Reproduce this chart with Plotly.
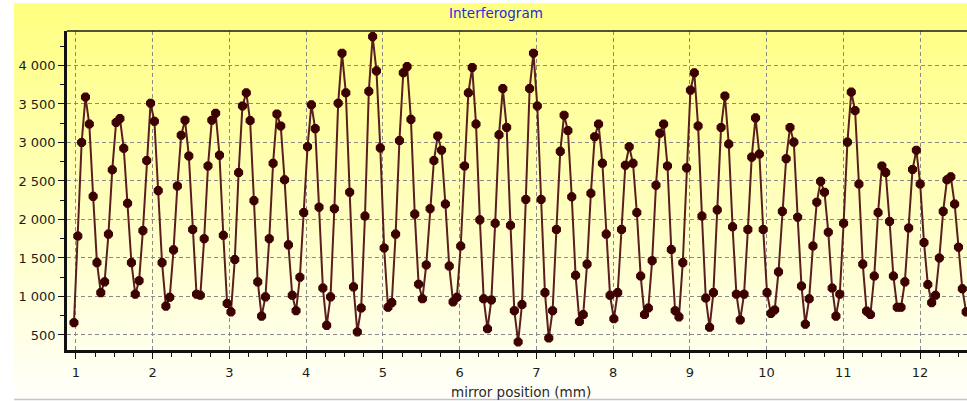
import base64
import struct
import zlib

import numpy as np
import plotly.graph_objects as go

# ---------------- data ----------------
X_START = 0.974          # first mirror position (mm)
X_STEP = 0.0499          # sampling step (mm)

intensity = [
    660, 1785, 3000, 3590, 3240, 2300, 1440, 1050, 1190, 1810,
    2645, 3260, 3310, 2925, 2210, 1440, 1030, 1205, 1855, 2765,
    3510, 3275, 2375, 1440, 875, 990, 1605, 2435, 3095, 3290,
    2825, 1870, 1030, 1015, 1750, 2695, 3290, 3380, 2835, 1795,
    910, 800, 1480, 2610, 3475, 3645, 3285, 2245, 1190, 745,
    995, 1750, 2730, 3370, 3215, 2515, 1670, 1015, 815, 1250,
    2090, 2945, 3490, 3180, 2160, 1110, 625, 995, 2140, 3510,
    4160, 3645, 2355, 1125, 540, 850, 2045, 3665, 4375, 3930,
    2930, 1630, 860, 920, 1810, 3025, 3905, 3985, 3300, 2070,
    1160, 970, 1410, 2140, 2765, 3085, 2900, 2200, 1395, 930,
    990, 1655, 2695, 3645, 3975, 3240, 1995, 970, 580, 955,
    1950, 3100, 3700, 3195, 1925, 815, 410, 895, 2260, 3700,
    4160, 3475, 2260, 1050, 460, 815, 1870, 2885, 3355, 3155,
    2295, 1275, 675, 765, 1420, 2340, 3075, 3240, 2730, 1810,
    1015, 710, 1050, 1870, 2705, 2945, 2730, 2090, 1265, 765,
    850, 1465, 2445, 3120, 3240, 2695, 1610, 815, 735, 1440,
    2670, 3680, 3905, 3215, 2045, 980, 600, 1050, 2125, 3195,
    3605, 2980, 1905, 1030, 695, 1030, 1870, 2810, 3320, 2850,
    1870, 1050, 780, 825, 1320, 2105, 2790, 3195, 3005, 2030,
    1135, 640, 970, 1655, 2225, 2495, 2355, 1835, 1110, 745,
    1030, 1950, 3005, 3655, 3415, 2460, 1420, 810, 765, 1265,
    2090, 2695, 2610, 1975, 1265, 860, 860, 1190, 1890, 2650,
    2900, 2460, 1700, 1155, 920, 1015, 1500, 2105, 2515, 2555,
    2200, 1640, 1100, 800,
]
mirror_position = np.round(X_START + X_STEP * np.arange(len(intensity)), 4)

x_tick_vals = list(range(1, 13))
x_tick_text = [str(v) for v in x_tick_vals]
y_tick_vals = [500, 1000, 1500, 2000, 2500, 3000, 3500, 4000]
y_tick_text = ["500", "1 000", "1 500", "2 000", "2 500", "3 000", "3 500", "4 000"]

title_text = "Interferogram"
x_title_text = "mirror position (mm)"

# ---------------- gradient background (PNG data URI) ----------------
def gradient_png(top, bottom, h=256):
    rows = b""
    for i in range(h):
        t = i / (h - 1)
        c = [int(round(top[k] + (bottom[k] - top[k]) * t)) for k in range(3)]
        rows += b"\x00" + bytes(c)
    def chunk(tag, data):
        return (struct.pack(">I", len(data)) + tag + data +
                struct.pack(">I", zlib.crc32(tag + data) & 0xFFFFFFFF))
    png = b"\x89PNG\r\n\x1a\n"
    png += chunk(b"IHDR", struct.pack(">IIBBBBB", 1, h, 8, 2, 0, 0, 0))
    png += chunk(b"IDAT", zlib.compress(rows, 9))
    png += chunk(b"IEND", b"")
    return "data:image/png;base64," + base64.b64encode(png).decode()

W, H = 967, 401
L, T, B = 67, 31, 350
PW, PH = W - L, B - T


def px_x(px):
    return (px - L) / PW


def px_y(py):
    return (B - py) / PH


bg = gradient_png((255, 255, 128), (255, 255, 250))

fig = go.Figure()
fig.add_trace(go.Scatter(
    x=mirror_position, y=intensity, mode="lines+markers",
    line=dict(color="#5a1e1e", width=2),
    marker=dict(symbol="octagon", size=8.5, color="#3c0000",
                line=dict(color="#3c0000", width=1.2)),
    cliponaxis=True, showlegend=False, hoverinfo="x+y",
))

axis_font = dict(family="DejaVu Sans", size=13, color="#1c1c1c")

fig.update_layout(
    width=W, height=H,
    margin=dict(l=L, r=0, t=T, b=H - B, pad=0),
    paper_bgcolor="white",
    plot_bgcolor="rgba(0,0,0,0)",
    showlegend=False,
    images=[dict(source=bg, xref="paper", yref="paper",
                 x=px_x(14), y=px_y(3), sizex=(W - 14) / PW,
                 sizey=(398 - 3) / PH, sizing="stretch",
                 xanchor="left", yanchor="top", layer="below")],
    shapes=[
        dict(type="line", xref="paper", yref="paper", x0=0, x1=1, y0=1, y1=1,
             line=dict(color="#1a1a1a", width=1.5)),
        dict(type="line", xref="paper", yref="paper", x0=px_x(14), x1=1.01,
             y0=px_y(399.5), y1=px_y(399.5), line=dict(color="#c4c4c4", width=1.5)),
    ],
    annotations=[
        dict(text=title_text, xref="paper", yref="paper", x=px_x(496),
             y=px_y(13), xanchor="center", yanchor="middle", showarrow=False,
             font=dict(family="DejaVu Sans", size=13.5, color="#2a2ad8")),
        dict(text=x_title_text, xref="paper", yref="paper", x=px_x(521),
             y=px_y(391.5), xanchor="center", yanchor="middle", showarrow=False,
             font=dict(family="DejaVu Sans", size=13.5, color="#2a2a2a")),
    ],
    xaxis=dict(
        range=[0.883, 12.612], tickmode="array", tickvals=x_tick_vals,
        ticktext=x_tick_text, ticks="outside", ticklen=6, tickwidth=1.2,
        tickcolor="#111", showline=True, linecolor="#111", linewidth=2.5,
        showgrid=True, gridcolor="#8a8a8a", gridwidth=1.2, griddash="4px,3px",
        zeroline=False, tickfont=axis_font, ticklabelstandoff=3,
        minor=dict(tick0=0, dtick=0.25, ticks="outside", ticklen=4,
                   tickcolor="#111", tickwidth=1, showgrid=False),
    ),
    yaxis=dict(
        range=[305, 4448], tickmode="array", tickvals=y_tick_vals,
        ticktext=y_tick_text, ticks="outside", ticklen=6, tickwidth=1.2,
        tickcolor="#111", showline=True, linecolor="#111", linewidth=2.5,
        showgrid=True, gridcolor="#8a8a8a", gridwidth=1.2, griddash="4px,3px",
        zeroline=False, tickfont=axis_font,
        minor=dict(tick0=0, dtick=250, ticks="outside", ticklen=4,
                   tickcolor="#111", tickwidth=1, showgrid=False),
    ),
)

fig.write_html(
    "out.html",
    config={"displayModeBar": False},
    post_script="document.body.style.margin='0';document.body.style.overflow='hidden';",
)
